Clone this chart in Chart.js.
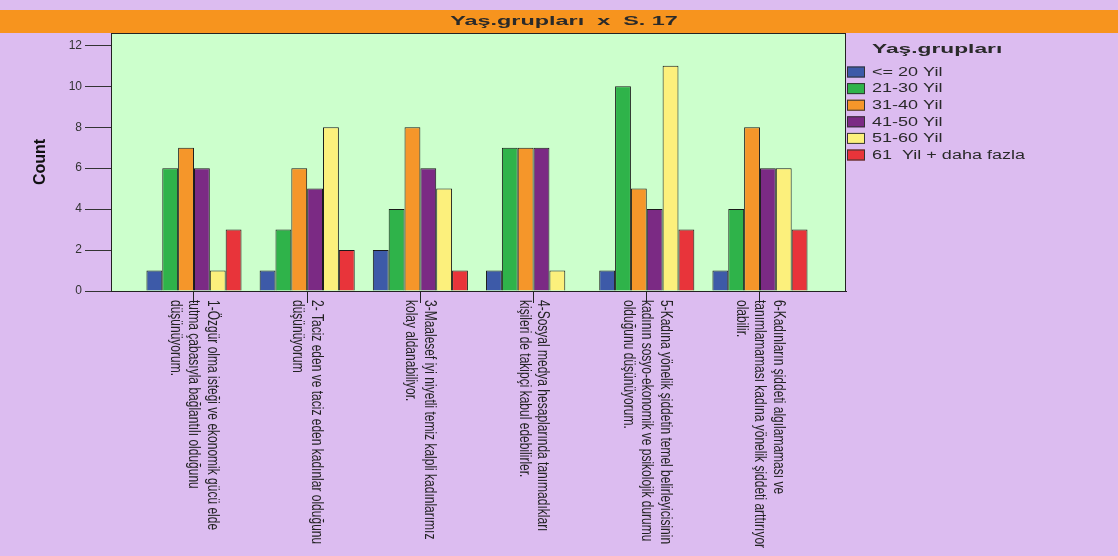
<!DOCTYPE html>
<html>
<head>
<meta charset="utf-8">
<script src="https://cdn.jsdelivr.net/npm/chart.js@4/dist/chart.umd.min.js"></script>
<style>
  html, body { margin: 0; padding: 0; background: #dcbcf0; }
  #wrap { width: 1118px; height: 556px; position: relative; }
</style>
</head>
<body>
<div id="wrap"><canvas id="chart"></canvas></div>
<script>
// categories (statements), each split in the lines shown under the axis
const categories = [
  ["1-Özgür olma isteği ve ekonomik gücü elde", "tutma çabasıyla bağlantılı olduğunu", "düşünüyorum."],
  ["2- Taciz eden ve taciz eden kadınlar olduğunu", "düşünüyorum"],
  ["3-Maalesef iyi niyetli temiz kalpli kadınlarımız", "kolay aldanabiliyor."],
  ["4-Sosyal medya hesaplarında tanımadıkları", "kişileri de takipçi kabul edebilirler."],
  ["5-Kadına yönelik şiddetin temel belirleyicisinin", "kadının sosyo-ekonomik ve psikolojik durumu", "olduğunu düşünüyorum."],
  ["6-Kadınların şiddeti algılamaması ve", "tanımlamaması kadına yönelik şiddeti arttırıyor", "olabilir."]
];
const ageGroups = ["<= 20 Yil", "21-30 Yil", "31-40 Yil", "41-50 Yil", "51-60 Yil", "61  Yil + daha fazla"];

const age20 = [1, 1, 2, 1, 1, 1];
const age21_30 = [6, 3, 4, 7, 10, 4];
const age31_40 = [7, 6, 8, 7, 5, 8];
const age41_50 = [6, 5, 6, 7, 4, 6];
const age51_60 = [1, 8, 5, 1, 11, 6];
const age61 = [3, 2, 1, 0, 3, 3];
const yTicks = [0, 2, 4, 6, 8, 10, 12];

const chartTitle = "Yaş.grupları  x  S. 17";
const legendTitle = "Yaş.grupları";
const yTitle = "Count";

const series = [age20, age21_30, age31_40, age41_50, age51_60, age61];
const colors = ["#3d5aa8", "#2fb34a", "#f5962a", "#7b2a84", "#fcf07c", "#e8343a"];

const datasets = series.map((vals, s) => ({
  label: ageGroups[s],
  data: vals.map((v, i) => ({ x: i, y: v })),
  backgroundColor: colors[s],
  borderColor: "#1a1a1a",
  borderWidth: 1,
  borderSkipped: "start",
  categoryPercentage: 0.84,
  barPercentage: 1,
}));

const decor = {
  id: "decor",
  beforeDraw(chart) {
    const ctx = chart.ctx;
    const a = chart.chartArea;
    ctx.save();
    ctx.fillStyle = "#dcbcf0";
    ctx.fillRect(0, 0, chart.width, chart.height);
    ctx.fillStyle = "#f7941e";
    ctx.fillRect(0, 10, chart.width, 23);
    ctx.fillStyle = "#ccffcc";
    ctx.fillRect(a.left, a.top, a.right - a.left, a.bottom - a.top);
    ctx.restore();
  },
  afterDraw(chart) {
    const ctx = chart.ctx;
    const a = chart.chartArea;
    ctx.save();
    // frame
    ctx.strokeStyle = "#222";
    ctx.lineWidth = 1;
    ctx.strokeRect(a.left + 0.5, a.top + 0.5, a.right - a.left - 1, a.bottom - a.top);

    // title, stretched like the source image
    ctx.fillStyle = "#2a2a2a";
    ctx.font = "bold 13px 'Liberation Sans', Arial, sans-serif";
    ctx.textBaseline = "middle";
    ctx.textAlign = "center";
    ctx.save();
    ctx.translate(564, 21);
    ctx.scale(1.8, 1);
    ctx.fillText(chartTitle, 0, 0);
    ctx.restore();

    // legend
    ctx.textAlign = "left";
    ctx.font = "bold 13px 'Liberation Sans', Arial, sans-serif";
    ctx.save();
    ctx.translate(872, 49);
    ctx.scale(1.75, 1);
    ctx.fillText(legendTitle, 0, 0);
    ctx.restore();
    ctx.font = "12px 'Liberation Sans', Arial, sans-serif";
    chart.data.datasets.forEach((ds, i) => {
      const y = 72 + i * 16.6;
      ctx.fillStyle = ds.backgroundColor;
      ctx.fillRect(847, y - 5.5, 18, 11);
      ctx.strokeStyle = "#333";
      ctx.strokeRect(847.5, y - 5, 17, 10);
      ctx.fillStyle = "#2a2a2a";
      ctx.save();
      ctx.translate(872, y + 0.5);
      ctx.scale(1.5, 1);
      ctx.fillText(ds.label, 0, 0);
      ctx.restore();
    });

    // rotated category labels, reading downwards
    const xs = chart.scales.x;
    ctx.font = "12px 'Liberation Sans', Arial, sans-serif";
    ctx.fillStyle = "#222";
    ctx.textBaseline = "middle";
    categories.forEach((lines, i) => {
      const px = xs.getPixelForValue(i);
      ctx.save();
      ctx.translate(px, a.bottom + 9);
      ctx.rotate(Math.PI / 2);
      ctx.scale(1, 1.4);
      lines.forEach((ln, j) => {
        ctx.fillText(ln, 0, (j - (lines.length - 1) / 2) * 13.2);
      });
      ctx.restore();
    });
    ctx.restore();
  }
};

new Chart(document.getElementById("chart").getContext("2d"), {
  type: "bar",
  data: { datasets: datasets },
  plugins: [decor],
  options: {
    responsive: true,
    maintainAspectRatio: false,
    animation: false,
    events: [],
    layout: { padding: { top: 33, right: 272, left: 0, bottom: 0 } },
    plugins: {
      legend: { display: false },
      title: { display: false },
      tooltip: { enabled: false },
    },
    scales: {
      x: {
        type: "linear",
        offset: false,
        min: -0.733,
        max: 5.76,
        afterFit(scale) { scale.height = 265; },
        ticks: { display: false, stepSize: 1, includeBounds: false },
        grid: { offset: false, drawOnChartArea: false, drawTicks: true, tickLength: 12, color: "#222" },
        border: { color: "#222", width: 1 },
      },
      y: {
        min: 0,
        max: 12.6,
        afterFit(scale) { scale.width = 111; },
        afterBuildTicks(scale) { scale.ticks = yTicks.map(v => ({ value: v })); },
        ticks: {
          color: "#333",
          padding: 3,
          font: { family: "'Liberation Sans', Arial, sans-serif", size: 12 },
        },
        grid: { drawOnChartArea: false, drawTicks: true, tickLength: 26, color: "#333" },
        border: { color: "#222", width: 1 },
        title: {
          display: true,
          text: yTitle,
          color: "#111",
          padding: { top: 31, bottom: 0 },
          font: { family: "'Liberation Sans', Arial, sans-serif", size: 16, weight: "bold" },
        },
      },
    },
  },
});
</script>
</body>
</html>
